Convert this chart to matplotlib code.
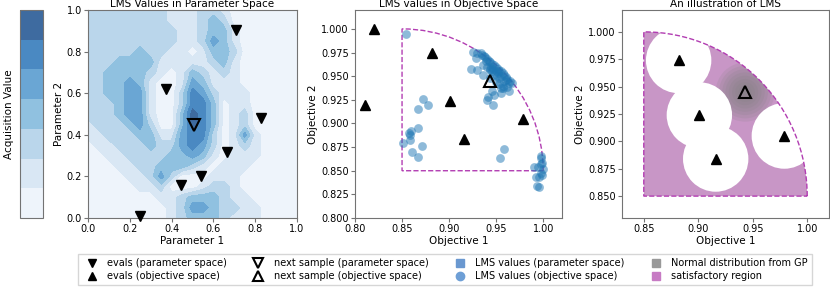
import matplotlib
matplotlib.use('Agg')
import matplotlib.pyplot as plt
import numpy as np
from matplotlib.lines import Line2D
from matplotlib.patches import Wedge, Circle

# ---- data -----------------------------------------------------------------
# acquisition value bands (rows: y=1.0 -> 0.0, cols: x=0.0 -> 1.0)
grid_x = np.linspace(0, 1, 21)
grid_y = np.linspace(1, 0, 21)
acq_bands = [
    [2, 2, 2, 2, 2, 2, 2, 2, 1, 1, 1, 2, 2, 1, 0, 0, 0, 0, 0, 0, 0],
    [2, 2, 2, 2, 2, 2, 2, 2, 1, 1, 1, 2, 3, 2, 0, 0, 0, 0, 0, 0, 0],
    [2, 2, 2, 2, 2, 2, 2, 2, 2, 1, 1, 2, 3, 3, 1, 0, 0, 0, 0, 0, 0],
    [2, 2, 2, 2, 2, 2, 2, 2, 2, 1, 1, 2, 4, 3, 1, 0, 0, 0, 0, 0, 0],
    [2, 2, 2, 2, 2, 3, 2, 2, 1, 1, 0, 1, 3, 3, 2, 0, 0, 0, 0, 0, 0],
    [2, 2, 2, 3, 3, 3, 3, 1, 1, 1, 1, 1, 2, 3, 1, 0, 0, 0, 0, 0, 0],
    [2, 2, 3, 3, 3, 3, 2, 1, 0, 1, 3, 2, 1, 2, 1, 0, 0, 0, 0, 0, 0],
    [2, 2, 3, 3, 4, 3, 1, 0, 0, 1, 4, 3, 1, 1, 1, 0, 0, 0, 0, 0, 0],
    [2, 2, 3, 3, 4, 4, 1, 0, 0, 2, 5, 4, 2, 1, 1, 1, 0, 0, 0, 0, 0],
    [2, 2, 2, 3, 4, 4, 1, 0, 0, 2, 5, 5, 3, 0, 1, 1, 0, 0, 0, 0, 0],
    [2, 2, 2, 3, 4, 4, 1, 0, 0, 3, 6, 5, 3, 0, 1, 2, 0, 0, 0, 0, 0],
    [1, 2, 2, 2, 3, 4, 2, 0, 0, 3, 6, 5, 3, 0, 1, 2, 0, 0, 0, 0, 0],
    [1, 1, 2, 2, 2, 3, 3, 1, 1, 4, 5, 5, 2, 0, 1, 4, 1, 0, 0, 0, 0],
    [0, 1, 1, 2, 2, 2, 3, 2, 2, 4, 5, 4, 2, 0, 1, 2, 1, 0, 0, 0, 0],
    [0, 0, 1, 1, 2, 2, 2, 2, 3, 3, 4, 3, 1, 0, 1, 1, 1, 0, 0, 0, 0],
    [0, 0, 0, 1, 1, 2, 2, 3, 3, 3, 2, 1, 0, 1, 1, 1, 0, 0, 0, 0, 0],
    [0, 0, 0, 0, 1, 1, 2, 4, 2, 0, 0, 0, 1, 1, 1, 0, 0, 0, 0, 0, 0],
    [0, 0, 0, 0, 0, 1, 1, 2, 0, 0, 0, 1, 2, 2, 1, 0, 0, 0, 0, 0, 0],
    [0, 0, 0, 0, 0, 0, 0, 1, 1, 2, 3, 3, 3, 2, 1, 1, 0, 0, 0, 0, 0],
    [0, 0, 0, 0, 0, 0, 0, 0, 1, 2, 4, 4, 3, 2, 2, 1, 1, 0, 0, 0, 0],
    [0, 0, 0, 0, 0, 0, 0, 0, 1, 2, 3, 3, 3, 2, 1, 1, 1, 0, 0, 0, 0],
]
band_colors = ['#eef4fb', '#d9e7f4', '#bad6eb', '#90c1e0', '#6aa6d4', '#4a89c2', '#3e6ba0']

# evaluated points in parameter space
param_x = [0.25, 0.373, 0.444, 0.543, 0.663, 0.710, 0.830]
param_y = [0.011, 0.619, 0.161, 0.202, 0.315, 0.902, 0.479]
next_param = (0.508, 0.447)

# evaluated points in objective space
eval_obj_x = [0.820, 0.811, 0.882, 0.901, 0.916, 0.979]
eval_obj_y = [1.000, 0.919, 0.974, 0.924, 0.884, 0.905]
next_obj = (0.943, 0.945)

# LMS values mapped into objective space
lms_obj_x = [
    0.854, 0.872, 0.878, 0.867, 0.867, 0.859, 0.857, 0.858, 0.858, 0.851, 0.871, 0.861, 0.867,
    0.958, 0.954,
    0.9975, 0.998, 0.999, 0.998, 0.9905, 0.994, 1.000, 0.9975, 0.999, 0.996, 0.992, 0.993, 0.996,
    0.923, 0.930, 0.9285, 0.930, 0.934, 0.937, 0.939, 0.936, 0.943, 0.941, 0.940, 0.947, 0.948,
    0.946, 0.955, 0.957, 0.953, 0.962, 0.964, 0.967, 0.960, 0.964, 0.925,
    0.935, 0.938, 0.940, 0.942, 0.944, 0.946, 0.948, 0.950, 0.952, 0.953, 0.955, 0.957, 0.958,
    0.960, 0.962, 0.945, 0.950, 0.955, 0.943, 0.948, 0.953, 0.958, 0.936, 0.940, 0.946, 0.951,
    0.957, 0.944, 0.950, 0.955, 0.965, 0.947, 0.952,
]
lms_obj_y = [
    0.995, 0.926, 0.919, 0.915, 0.895, 0.892, 0.890, 0.888, 0.882, 0.879, 0.876, 0.870, 0.864,
    0.873, 0.863,
    0.866, 0.863, 0.858, 0.857, 0.854, 0.8535, 0.852, 0.848, 0.846, 0.843, 0.843, 0.8336, 0.8325,
    0.958, 0.957, 0.969, 0.975, 0.974, 0.971, 0.966, 0.951, 0.957, 0.928, 0.925, 0.920, 0.930,
    0.934, 0.932, 0.937, 0.942, 0.939, 0.943, 0.943, 0.946, 0.934, 0.976,
    0.972, 0.970, 0.968, 0.966, 0.965, 0.963, 0.962, 0.960, 0.958, 0.956, 0.955, 0.953, 0.951,
    0.949, 0.947, 0.960, 0.955, 0.950, 0.958, 0.952, 0.948, 0.945, 0.962, 0.960, 0.955, 0.950,
    0.940, 0.948, 0.944, 0.938, 0.945, 0.958, 0.953,
]

# satisfactory region: quarter disc
region_center = (0.85, 0.85)
region_radius = 0.15
exclusion_radius = 0.03
gp_radii = [0.027, 0.024, 0.021, 0.018, 0.015, 0.012, 0.009, 0.006, 0.003]

region_color = '#c896c6'
edge_color = '#b23db2'
spine_color = '0.45'

# ---- figure ---------------------------------------------------------------
plt.rcParams['font.family'] = 'DejaVu Sans'
fig = plt.figure(figsize=(8.3, 2.9), dpi=100)

W, H = 830, 290
def px_axes(x0, y0, w, h):
    return fig.add_axes([x0 / W, 1 - (y0 + h) / H, w / W, h / H])

cax = px_axes(20, 10, 23, 208)
ax1 = px_axes(88, 10, 209, 208)
ax2 = px_axes(355, 10, 207, 208)
ax3 = px_axes(622, 10, 207, 208)

tick_fs = 7
label_fs = 7.5

# panel 1: parameter space
Z = np.flipud(np.array(acq_bands, dtype=float))
levels = np.arange(-0.5, 7.0, 1.0)
cf = ax1.contourf(grid_x, grid_y[::-1], Z, levels=levels, colors=band_colors)
ax1.plot(param_x, param_y, 'v', color='black', ms=7, ls='none', clip_on=False, zorder=5)
ax1.plot(*next_param, 'v', mfc='none', mec='black', mew=1.5, ms=8.5, zorder=5)
ax1.set_xlim(0, 1)
ax1.set_ylim(0, 1)
ax1.set_xticks(np.arange(0, 1.01, 0.2))
ax1.set_yticks(np.arange(0, 1.01, 0.2))
ax1.set_xlabel('Parameter 1', fontsize=label_fs, labelpad=1)
ax1.set_ylabel('Parameter 2', fontsize=label_fs, labelpad=2)
ax1.set_title('LMS Values in Parameter Space', fontsize=label_fs, pad=2)

cb = fig.colorbar(cf, cax=cax)
cb.set_ticks([])
cb.outline.set_edgecolor(spine_color)
cax.yaxis.set_label_position('left')
cax.set_ylabel('Acquisition Value', fontsize=label_fs, labelpad=4)

# panel 2: objective space
ax2.scatter(lms_obj_x, lms_obj_y, s=40, color='#1f77b4', alpha=0.5, lw=0, zorder=3)
ax2.plot(eval_obj_x, eval_obj_y, '^', color='black', ms=7, ls='none', zorder=5)
ax2.plot(*next_obj, '^', mfc='none', mec='black', mew=1.5, ms=8.5, zorder=6)
ax2.add_patch(Wedge(region_center, region_radius, 0, 90, fill=False, ec=edge_color,
                    ls='--', lw=1.0, zorder=2))
ax2.set_xlim(0.8, 1.02)
ax2.set_ylim(0.8, 1.02)
ax2.set_xticks([0.80, 0.85, 0.90, 0.95, 1.00])
ax2.set_yticks(np.arange(0.8, 1.001, 0.025))
ax2.xaxis.set_major_formatter('{x:.2f}')
ax2.yaxis.set_major_formatter('{x:.3f}')
ax2.set_xlabel('Objective 1', fontsize=label_fs, labelpad=1)
ax2.set_ylabel('Objective 2', fontsize=label_fs, labelpad=2)
ax2.set_title('LMS values in Objective Space', fontsize=label_fs, pad=2)

# panel 3: illustration
region = Wedge(region_center, region_radius, 0, 90, fc=region_color, ec='none', zorder=1)
ax3.add_patch(region)
for r in gp_radii:
    c = Circle(next_obj, r, fc='gray', ec='none', alpha=0.16, zorder=2)
    ax3.add_patch(c)
    c.set_clip_path(region)
for x, y in zip(eval_obj_x, eval_obj_y):
    if (x - region_center[0]) ** 2 + (y - region_center[1]) ** 2 <= region_radius ** 2 and x >= 0.85:
        ax3.add_patch(Circle((x, y), exclusion_radius, fc='white', ec='none', zorder=3))
        ax3.plot(x, y, '^', color='black', ms=7, zorder=5)
ax3.add_patch(Wedge(region_center, region_radius, 0, 90, fill=False, ec=edge_color,
                    ls='--', lw=1.0, zorder=4))
ax3.plot(*next_obj, '^', mfc='none', mec='black', mew=1.5, ms=8.5, zorder=6)
ax3.set_xlim(0.83, 1.02)
ax3.set_ylim(0.83, 1.02)
ax3.set_xticks([0.85, 0.90, 0.95, 1.00])
ax3.set_yticks(np.arange(0.85, 1.001, 0.025))
ax3.xaxis.set_major_formatter('{x:.2f}')
ax3.yaxis.set_major_formatter('{x:.3f}')
ax3.set_xlabel('Objective 1', fontsize=label_fs, labelpad=1)
ax3.set_ylabel('Objective 2', fontsize=label_fs, labelpad=2)
ax3.set_title('An illustration of LMS', fontsize=label_fs, pad=2)

for ax in (ax1, ax2, ax3):
    ax.tick_params(labelsize=tick_fs, length=3, pad=1.5, color=spine_color)
    for s in ax.spines.values():
        s.set_edgecolor(spine_color)

# legend
handles = [
    Line2D([], [], marker='v', color='black', ls='none', ms=6, label='evals (parameter space)'),
    Line2D([], [], marker='^', color='black', ls='none', ms=6, label='evals (objective space)'),
    Line2D([], [], marker='v', mfc='none', mec='black', mew=1.5, ls='none', ms=7,
           label='next sample (parameter space)'),
    Line2D([], [], marker='^', mfc='none', mec='black', mew=1.5, ls='none', ms=7,
           label='next sample (objective space)'),
    Line2D([], [], marker='s', color='#6a98d0', ls='none', ms=6, label='LMS values (parameter space)'),
    Line2D([], [], marker='o', color='#6e9fd6', ls='none', ms=6, label='LMS values (objective space)'),
    Line2D([], [], marker='s', color='#999999', ls='none', ms=6, label='Normal distribution from GP'),
    Line2D([], [], marker='s', color='#c77bc4', ls='none', ms=6, label='satisfactory region'),
]
fig.legend(handles=handles, ncol=4, loc='lower center', bbox_to_anchor=(445 / W, 0.0),
           fontsize=7, frameon=True, edgecolor='0.8', fancybox=False,
           handletextpad=0.6, columnspacing=2.2, borderpad=0.4, labelspacing=0.3)

fig.savefig('out.png', dpi=100)
